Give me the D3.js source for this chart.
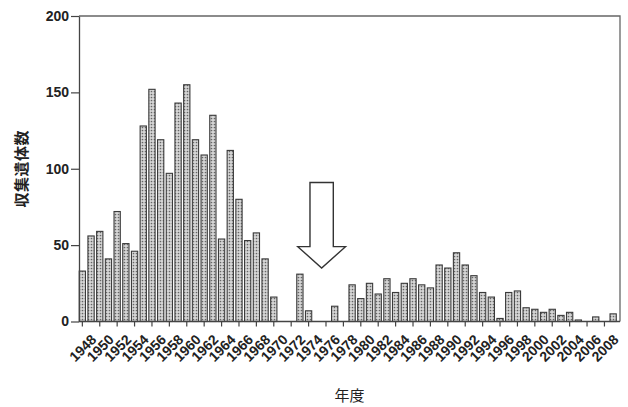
<!DOCTYPE html>
<html>
<head>
<meta charset="utf-8">
<title>収集遺体数</title>
<script src="https://cdn.jsdelivr.net/npm/d3@7/dist/d3.min.js"></script>
<style>
    html, body {margin: 0; padding: 0; background: #fff;}
    svg {display: block;}
    .num {font-family: "Liberation Sans", Arial, sans-serif; fill: #222;}
    .jp {font-family: "Noto Sans CJK JP", sans-serif; fill: #222;}
</style>
</head>
<body>
<div id="chart"></div>
<script>
// 年度ごとの収集遺体数 (1948-2009)
const years = [
    1948, 1949, 1950, 1951, 1952, 1953, 1954, 1955, 1956, 1957,
    1958, 1959, 1960, 1961, 1962, 1963, 1964, 1965, 1966, 1967,
    1968, 1969, 1970, 1971, 1972, 1973, 1974, 1975, 1976, 1977,
    1978, 1979, 1980, 1981, 1982, 1983, 1984, 1985, 1986, 1987,
    1988, 1989, 1990, 1991, 1992, 1993, 1994, 1995, 1996, 1997,
    1998, 1999, 2000, 2001, 2002, 2003, 2004, 2005, 2006, 2007,
    2008, 2009
];
const counts = [
    33, 56, 59, 41, 72, 51, 46, 128, 152, 119,
    97, 143, 155, 119, 109, 135, 54, 112, 80, 53,
    58, 41, 16, 0, 0, 31, 7, 0, 0, 10,
    0, 24, 15, 25, 18, 28, 19, 25, 28, 24,
    22, 37, 35, 45, 37, 30, 19, 16, 2, 19,
    20, 9, 8, 6, 8, 4, 6, 1, 0, 3,
    0, 5
];
const yTicks = [0, 50, 100, 150, 200];
const xTickYears = years.filter(y => y % 2 === 0);

const w = 628;
const h = 407;
const plot = {left: 79, right: 620, top: 16, bottom: 321.5};

const svg = d3.select('#chart')
    .append('svg')
    .attr('width', w)
    .attr('height', h);

// dotted fill like the printed figure
const pat = svg.append('defs').append('pattern')
    .attr('id', 'dots')
    .attr('patternUnits', 'userSpaceOnUse')
    .attr('width', 3)
    .attr('height', 3);
pat.append('rect').attr('width', 3).attr('height', 3).attr('fill', '#d6d6d6');
pat.append('circle').attr('cx', 1.5).attr('cy', 1.5).attr('r', 0.85).attr('fill', '#666');

const x = d3.scaleBand()
    .domain(years)
    .range([78, 617.5])
    .paddingInner(0.28)
    .paddingOuter(0.14);

const y = d3.scaleLinear()
    .domain([0, 200])
    .range([plot.bottom, plot.top]);

const xc = yr => x(yr) + x.bandwidth() / 2;

// frame (top / right)
svg.append('path')
    .attr('d', `M${plot.left},${plot.top} H${plot.right} V${plot.bottom}`)
    .attr('fill', 'none')
    .attr('stroke', '#666')
    .attr('stroke-width', 1.3);

// bars
svg.append('g')
    .selectAll('rect')
    .data(years.map((yr, i) => ({yr, v: counts[i]})).filter(d => d.v > 0))
    .join('rect')
    .attr('x', d => x(d.yr))
    .attr('y', d => y(d.v))
    .attr('width', x.bandwidth())
    .attr('height', d => y(0) - y(d.v))
    .attr('fill', 'url(#dots)')
    .attr('stroke', '#3a3a3a')
    .attr('stroke-width', 1.1);

// y axis
const yAxis = svg.append('g')
    .attr('transform', `translate(${plot.left},0)`)
    .call(d3.axisLeft(y).tickValues(yTicks).tickSize(8).tickPadding(2).tickSizeOuter(0));
yAxis.select('.domain').attr('stroke', '#444').attr('stroke-width', 1.3);
yAxis.selectAll('.tick line').attr('stroke', '#444').attr('stroke-width', 1.2);
yAxis.selectAll('.tick text')
    .attr('class', 'num')
    .attr('font-size', 14)
    .attr('font-weight', 'bold')
    .attr('fill', '#222');

// x axis
const xAxis = svg.append('g')
    .attr('transform', `translate(0,${plot.bottom})`)
    .call(d3.axisBottom(x).tickValues(xTickYears).tickSize(5).tickSizeOuter(0));
xAxis.select('.domain')
    .attr('d', `M${plot.left},0H${plot.right}`)
    .attr('stroke', '#444')
    .attr('stroke-width', 1.3);
xAxis.selectAll('.tick line').attr('stroke', '#444').attr('stroke-width', 1.2);
xAxis.selectAll('.tick text')
    .attr('class', 'num')
    .attr('font-size', 14)
    .attr('font-weight', 'bold')
    .attr('fill', '#222')
    .attr('text-anchor', 'end')
    .attr('y', 0)
    .attr('dy', 0)
    .attr('transform', 'translate(15,19) rotate(-45)');

// axis titles
svg.append('text')
    .attr('class', 'jp')
    .attr('transform', `translate(27,${(plot.top + plot.bottom) / 2}) rotate(-90)`)
    .attr('text-anchor', 'middle')
    .attr('font-size', 15)
    .attr('font-weight', 'bold')
    .attr('letter-spacing', 0.5)
    .text('収集遺体数');

svg.append('text')
    .attr('class', 'jp')
    .attr('x', (plot.left + plot.right) / 2)
    .attr('y', 401)
    .attr('text-anchor', 'middle')
    .attr('font-size', 15)
    .text('年度');

// hollow arrow pointing at the gap in the early 1970s
const step = x.step();
const ax = (xc(1975) + xc(1976)) / 2;
const shaftHalf = 1.34 * step;
const headHalf = 2.74 * step;
const arrowTop = y(91), arrowNeck = y(49), arrowTip = y(35);
svg.append('path')
    .attr('d', [
        `M${ax - shaftHalf},${arrowTop}`,
        `H${ax + shaftHalf}`,
        `V${arrowNeck}`,
        `H${ax + headHalf}`,
        `L${ax},${arrowTip}`,
        `L${ax - headHalf},${arrowNeck}`,
        `H${ax - shaftHalf}`,
        'Z'
    ].join(' '))
    .attr('fill', '#fff')
    .attr('stroke', '#333')
    .attr('stroke-width', 1.4)
    .attr('stroke-linejoin', 'miter');
</script>
</body>
</html>
